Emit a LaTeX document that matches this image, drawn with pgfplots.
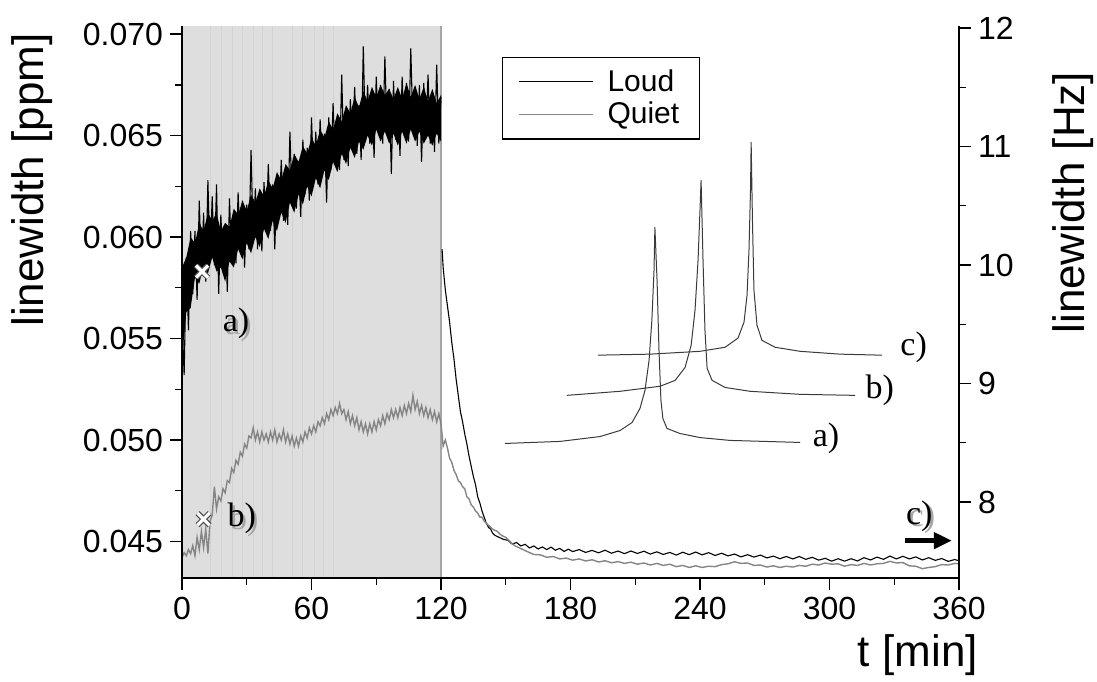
\documentclass[border=0pt]{standalone}
\usepackage{fontspec}
\setmainfont{Liberation Sans}
\newfontfamily\tms{Liberation Serif}
\usepackage{pgfplots}
\pgfplotsset{compat=1.18}
\usetikzlibrary{arrows.meta}

\definecolor{shade}{HTML}{DEDEDE}
\definecolor{stripe}{HTML}{D2D2D2}
\definecolor{quiet}{HTML}{858585}
\definecolor{spec}{HTML}{3A3A3A}

% label with a soft shadow, as in the original
\newcommand{\shlabel}[3]{%
  \node[text=black!35, font=\tms\fontsize{17}{19}\selectfont] at ([xshift=1.3pt,yshift=-1.3pt]axis cs:#1,#2) {#3};
  \node[font=\tms\fontsize{17}{19}\selectfont] at (axis cs:#1,#2) {#3};}

\pgfplotsset{
  common/.style={
    scale only axis, width=388.5pt, height=276pt,
    at={(0pt,0pt)}, anchor=south west,
    xmin=0, xmax=360,
    tick align=outside,
    major tick length=6pt, minor tick length=3.5pt,
    every tick/.style={black, line width=0.7pt},
    axis line style={line width=0.8pt},
    tick label style={font=\fontsize{16}{18}\selectfont},
    label style={font=\fontsize{22}{26}\selectfont},
    /pgf/number format/assume math mode=true,
  }
}

\begin{document}
\begin{tikzpicture}
\path[use as bounding box] (-91pt,-51.5pt) rectangle (457.5pt,289pt);

\begin{axis}[common,
  ymin=0.0432, ymax=0.0704,
  axis x line*=bottom, axis y line*=left,
  axis on top,
  xtick={0,60,120,180,240,300,360}, minor x tick num=1,
  ytick={0.045,0.050,0.055,0.060,0.065,0.070}, minor y tick num=1,
  scaled y ticks=false,
  yticklabel style={/pgf/number format/.cd, fixed, fixed zerofill, precision=3},
  xlabel={t [min]}, ylabel={linewidth [ppm]},
  xlabel style={at={(rel axis cs:0.947,-0.14)}, anchor=center},
  ylabel style={at={(rel axis cs:-0.193,0.721)}, anchor=center},
  unbounded coords=jump,
  legend style={at={(rel axis cs:0.412,0.944)}, anchor=north west,
    draw=black, line width=0.6pt, fill=white,
    font=\fontsize{15}{17}\selectfont,
    inner xsep=8pt, inner ysep=4pt, row sep=0pt,
    /tikz/every odd column/.append style={column sep=5pt}},
  legend cell align=left,
  legend image code/.code={\draw[#1, line width=0.4pt] (0pt,0pt) -- (37pt,0pt);},
]

% shaded loud period
\addplot[fill=shade, draw=none, forget plot] coordinates
  {(0,0.0432) (0,0.0704) (120,0.0704) (120,0.0432)} -- cycle;
\addplot[ycomb, draw=stripe, line width=0.5pt, mark=none, forget plot] coordinates {
  (13.2,0.0704) (18.5,0.0704) (23.2,0.0704) (27.8,0.0704) (33.2,0.0704) (37.1,0.0704)
  (41.8,0.0704) (51.2,0.0704) (55.6,0.0704) (61.2,0.0704) (65.5,0.0704) (70.3,0.0704)};
\addplot[ycomb, draw=black!35, line width=0.6pt, mark=none, forget plot] coordinates {(120,0.0704)};

% dense core of the loud trace (upper edge, then lower edge back)
\addplot[fill=black, draw=none, forget plot] coordinates {
(0,0.0585) (2,0.0590) (4,0.0600) (6,0.0597) (8,0.0607) (10,0.0603) (12,0.0612) (14,0.0608)
(16,0.0612) (18,0.0603) (20,0.0607) (22,0.0605) (24,0.0614) (26,0.0611) (28,0.0618) (30,0.0613)
(32,0.0621) (34,0.0617) (36,0.0624) (38,0.0620) (40,0.0628) (42,0.0624) (44,0.0632) (46,0.0628)
(48,0.0636) (50,0.0633) (52,0.0641) (54,0.0637) (56,0.0645) (58,0.0641) (60,0.0649) (62,0.0645)
(64,0.0653) (66,0.0649) (68,0.0657) (70,0.0653) (72,0.0661) (74,0.0657) (76,0.0665) (78,0.0661)
(80,0.0669) (82,0.0664) (84,0.0672) (86,0.0667) (88,0.0674) (90,0.0669) (92,0.0675) (94,0.0670)
(96,0.0673) (98,0.0668) (100,0.0674) (102,0.0668) (104,0.0676) (106,0.0669) (108,0.0675) (110,0.0668)
(112,0.0674) (114,0.0667) (116,0.0673) (118,0.0666) (120,0.0670)
(120,0.0647) (118,0.0651) (116,0.0645) (114,0.0650) (112,0.0646) (110,0.0652) (108,0.0647) (106,0.0653)
(104,0.0646) (102,0.0652) (100,0.0645) (98,0.0651) (96,0.0646) (94,0.0652) (92,0.0647) (90,0.0653)
(88,0.0645) (86,0.0650) (84,0.0643) (82,0.0647) (80,0.0639) (78,0.0644) (76,0.0636) (74,0.0641)
(72,0.0632) (70,0.0637) (68,0.0628) (66,0.0633) (64,0.0624) (62,0.0629) (60,0.0620) (58,0.0625)
(56,0.0616) (54,0.0621) (52,0.0612) (50,0.0617) (48,0.0607) (46,0.0612) (44,0.0603) (42,0.0608)
(40,0.0599) (38,0.0604) (36,0.0595) (34,0.0600) (32,0.0592) (30,0.0597) (28,0.0589) (26,0.0594)
(24,0.0585) (22,0.0588) (20,0.0578) (18,0.0585) (16,0.0583) (14,0.0590) (12,0.0582) (10,0.0586)
(8,0.0577) (6,0.0580) (4,0.0565) (2,0.0563) (0,0.0540)} -- cycle;

% Loud
\addplot[black, line width=0.55pt] coordinates {
(0,0.0560) (1,0.0532) (2,0.0590) (3,0.0554) (4,0.0603) (5,0.0572) (6,0.0603) (7,0.0569)
(8,0.0618) (9,0.0582) (10,0.0612) (11,0.0578) (12,0.0628) (13,0.0588) (14,0.0620) (15,0.0586)
(16,0.0626) (17,0.0572) (18,0.0611) (19,0.0586) (20,0.0605) (21,0.0573) (22,0.0619) (23,0.0587)
(24,0.0611) (25,0.0587) (26,0.0622) (27,0.0595) (28,0.0618) (29,0.0585) (30,0.0616) (31,0.0594)
(32,0.0643) (33,0.0597) (34,0.0624) (35,0.0594) (36,0.0619) (37,0.0593) (38,0.0627) (39,0.0604)
(40,0.0636) (41,0.0603) (42,0.0626) (43,0.0594) (44,0.0631) (45,0.0611) (46,0.0638) (47,0.0608)
(48,0.0634) (49,0.0606) (50,0.0652) (51,0.0617) (52,0.0641) (53,0.0614) (54,0.0637) (55,0.0610)
(56,0.0648) (57,0.0621) (58,0.0644) (59,0.0618) (60,0.0659) (61,0.0628) (62,0.0652) (63,0.0626)
(64,0.0658) (65,0.0630) (66,0.0651) (67,0.0617) (68,0.0659) (69,0.0633) (70,0.0666) (71,0.0637)
(72,0.0660) (73,0.0633) (74,0.0680) (75,0.0638) (76,0.0663) (77,0.0635) (78,0.0668) (79,0.0646)
(80,0.0674) (81,0.0641) (82,0.0665) (83,0.0638) (84,0.0694) (85,0.0647) (86,0.0675) (87,0.0646)
(88,0.0671) (89,0.0639) (90,0.0679) (91,0.0651) (92,0.0675) (93,0.0646) (94,0.0689) (95,0.0651)
(96,0.0673) (97,0.0631) (98,0.0677) (99,0.0648) (100,0.0670) (101,0.0640) (102,0.0679) (103,0.0650)
(104,0.0676) (105,0.0647) (106,0.0693) (107,0.0653) (108,0.0673) (109,0.0645) (110,0.0675) (111,0.0637)
(112,0.0676) (113,0.0651) (114,0.0680) (115,0.0646) (116,0.0672) (117,0.0642) (118,0.0685) (119,0.0646)
(120,0.0669) (120.3,nan)
(120.5,0.0594) (121,0.0585) (122,0.0574) (123,0.0566) (124,0.0558) (125,0.0548) (126,0.0540)
(127,0.0530) (128,0.0522) (129,0.0514) (130,0.0509) (131,0.0503) (132,0.0498) (133,0.0492)
(134,0.0487) (135,0.0482) (136,0.0478) (137,0.0472) (138,0.0469) (139,0.0465) (140,0.0462)
(141,0.0459) (142,0.0457) (143,0.0456) (144,0.0454) (145,0.0453) (147,0.0452) (149,0.0451)
(151,0.04506) (153,0.04487) (155,0.04495) (157,0.04478) (159,0.04486) (161,0.04468) (163,0.04478)
(165,0.04463) (167,0.04473) (169,0.04460) (171,0.04472) (173,0.04457) (175,0.04466) (177,0.04451)
(179,0.04462) (181,0.04450) (184,0.04460) (187,0.04446) (190,0.04456) (193,0.04444) (196,0.04457)
(199,0.04442) (202,0.04453) (205,0.04440) (208,0.04453) (211,0.04441) (214,0.04452) (217,0.04438)
(220,0.04449) (223,0.04436) (226,0.04446) (229,0.04433) (232,0.04447) (235,0.04435) (238,0.04448)
(241,0.04434) (244,0.04445) (247,0.04431) (250,0.04442) (253,0.04429) (256,0.04438) (259,0.04424)
(262,0.04435) (265,0.04423) (268,0.04433) (271,0.04419) (274,0.04428) (277,0.04415) (280,0.04426)
(283,0.04414) (286,0.04426) (289,0.04412) (292,0.04422) (295,0.04408) (298,0.04417) (301,0.04403)
(304,0.04415) (307,0.04403) (310,0.04415) (313,0.04404) (316,0.04420) (319,0.04409) (322,0.04423)
(325,0.04412) (328,0.04428) (331,0.04414) (334,0.04427) (337,0.04414) (340,0.04424) (343,0.04409)
(346,0.04420) (349,0.04407) (352,0.04416) (355,0.04402) (358,0.04411) (360,0.04405)
};
\addlegendentry{Loud}

% Quiet
\addplot[quiet, line width=0.7pt] coordinates {
(0,0.0442) (1,0.04445) (2,0.0443) (3,0.0446) (4,0.0444) (5,0.0448) (6,0.0443) (7,0.0452)
(8,0.0446) (9,0.0455) (10,0.0447) (11,0.0456) (12,0.0444) (13,0.0460) (14,0.0463) (15,0.0477)
(16,0.0466) (17,0.0472) (18,0.0470) (19,0.0476) (20,0.0474) (21,0.0480) (22,0.0479) (23,0.0486)
(24,0.0484) (25,0.0490) (26,0.0488) (27,0.0494) (28,0.0492) (29,0.0498) (30,0.0496) (31,0.0502)
(32,0.0501) (33,0.0506) (34,0.0500) (35,0.0504) (36,0.0499) (37,0.0504) (38,0.0500) (39,0.0503)
(40,0.0499) (41,0.0504) (42,0.0500) (43,0.0505) (44,0.0499) (45,0.0503) (46,0.0500) (47,0.0505)
(48,0.0499) (49,0.0503) (50,0.0498) (51,0.0502) (52,0.0497) (53,0.0501) (54,0.0497) (55,0.0502)
(56,0.0499) (57,0.0504) (58,0.0501) (59,0.0506) (60,0.0503) (61,0.0507) (62,0.0504) (63,0.0509)
(64,0.0507) (65,0.0511) (66,0.0508) (67,0.0513) (68,0.0510) (69,0.0515) (70,0.0512) (71,0.0516)
(72,0.0513) (73,0.0518) (74,0.0513) (75,0.0515) (76,0.0510) (77,0.0514) (78,0.0508) (79,0.0512)
(80,0.0507) (81,0.0511) (82,0.0505) (83,0.0509) (84,0.0504) (85,0.0508) (86,0.0503) (87,0.0508)
(88,0.0504) (89,0.0509) (90,0.0505) (91,0.0510) (92,0.0507) (93,0.0512) (94,0.0508) (95,0.0513)
(96,0.0510) (97,0.0515) (98,0.0511) (99,0.0515) (100,0.0511) (101,0.0516) (102,0.0512) (103,0.0517)
(104,0.0513) (105,0.0518) (106,0.0514) (107,0.0522) (108,0.0515) (109,0.0519) (110,0.0513) (111,0.0517)
(112,0.0512) (113,0.0516) (114,0.0511) (115,0.0515) (116,0.0510) (117,0.0514) (118,0.0509) (119,0.0513)
(120,0.0508) (121,0.0497) (122,0.0500) (123,0.0496) (124,0.0491) (125,0.0489) (126,0.0485)
(127,0.0483) (128,0.0480) (129,0.0479) (130,0.0477) (131,0.0476) (132,0.0472) (133,0.0471)
(134,0.0468) (135,0.0467) (136,0.0465) (137,0.0464) (138,0.0462) (139,0.0462) (140,0.0460)
(142,0.0458) (144,0.0456) (146,0.0455) (148,0.0453) (150,0.0452) (152,0.0450) (154,0.0448)
(156,0.0447) (158,0.0446) (160,0.0445) (163,0.04436) (166,0.04434) (169,0.04422) (172,0.04426)
(175,0.04414) (178,0.04418) (181,0.04408) (184,0.04414) (187,0.04404) (190,0.04410) (193,0.04399)
(196,0.04405) (199,0.04395) (202,0.04401) (205,0.04392) (208,0.04398) (211,0.04388) (214,0.04394)
(217,0.04384) (220,0.04392) (223,0.04382) (226,0.04388) (229,0.04376) (232,0.04382) (235,0.04372)
(238,0.04380) (241,0.04372) (244,0.04378) (247,0.04376) (250,0.04386) (253,0.04390) (256,0.04400)
(259,0.04392) (262,0.04394) (265,0.04382) (268,0.04384) (271,0.04374) (274,0.04380) (277,0.04372)
(280,0.04378) (283,0.04374) (286,0.04382) (289,0.04378) (292,0.04388) (295,0.04384) (298,0.04394)
(301,0.04388) (304,0.04390) (307,0.04378) (310,0.04386) (313,0.04382) (316,0.04392) (319,0.04384)
(322,0.04390) (325,0.04392) (328,0.04402) (331,0.04394) (334,0.04396) (337,0.04380) (340,0.04378)
(343,0.04366) (346,0.04372) (349,0.04376) (352,0.04386) (355,0.04384) (358,0.04392) (360,0.04390)
};
\addlegendentry{Quiet}

% inset spectra a), b), c)
\addplot[spec, line width=0.5pt, forget plot] coordinates {
(149.6,0.04983) (175.1,0.04993) (193.7,0.05017) (203.0,0.05047) (208.5,0.05086) (212.2,0.05156)
(214.5,0.05244) (216.4,0.05392) (217.7,0.05590) (218.7,0.05836) (219.1,0.06049) (220.1,0.05788)
(221.0,0.05442) (221.9,0.05195) (222.8,0.05106) (224.7,0.05057) (230.7,0.05032) (240.0,0.05012)
(253.9,0.04998) (286.4,0.04988)};
\addplot[spec, line width=0.5pt, forget plot] coordinates {
(178.3,0.05220) (203.0,0.05240) (221.6,0.05265) (228.5,0.05294) (233.1,0.05358) (235.9,0.05467)
(237.7,0.05640) (239.1,0.05886) (240.0,0.06133) (240.5,0.06281) (241.4,0.05886) (242.3,0.05541)
(243.3,0.05353) (245.6,0.05294) (251.6,0.05259) (263.2,0.05240) (286.4,0.05225) (311.9,0.05220)};
\addplot[spec, line width=0.5pt, forget plot] coordinates {
(192.7,0.05418) (216.8,0.05423) (240.0,0.05437) (251.6,0.05457) (257.6,0.05502) (260.4,0.05581)
(261.8,0.05714) (262.7,0.05936) (263.4,0.06232) (263.7,0.06469) (264.3,0.06084) (265.0,0.05738)
(266.4,0.05566) (268.7,0.05491) (274.8,0.05457) (286.4,0.05437) (304.9,0.05423) (324.4,0.05418)};
\node[font=\tms\fontsize{17}{19}\selectfont] at (axis cs:298.4,0.05007) {a)};
\node[font=\tms\fontsize{17}{19}\selectfont] at (axis cs:323.3,0.05245) {b)};
\node[font=\tms\fontsize{17}{19}\selectfont] at (axis cs:339.0,0.05457) {c)};

% sample markers
\addplot[only marks, mark=x, mark size=4.3pt, mark options={black!70, line width=2.8pt}, forget plot]
  coordinates {(9.3,0.0583) (10,0.0461)};
\addplot[only marks, mark=x, mark size=4.3pt, mark options={white, line width=1.6pt}, forget plot]
  coordinates {(9.3,0.0583) (10,0.0461)};
\shlabel{25}{0.05575}{a)}
\shlabel{27.7}{0.04613}{b)}
\shlabel{341.6}{0.04625}{c)}
\addplot[black, line width=2.2pt, -{Triangle[length=9pt,width=8pt]}, forget plot]
  coordinates {(335.2,0.04504) (356.7,0.04504)};
\end{axis}

\begin{axis}[common,
  ymin=7.359, ymax=12.017,
  axis y line*=right, axis x line=none,
  ytick={8,9,10,11,12}, minor y tick num=1,
  ylabel={linewidth [Hz]},
  ylabel style={at={(rel axis cs:1.1467,0.68)}, anchor=center},
]
\addplot[draw=none, forget plot] coordinates {(0,8)};
\end{axis}
\end{tikzpicture}
\end{document}
